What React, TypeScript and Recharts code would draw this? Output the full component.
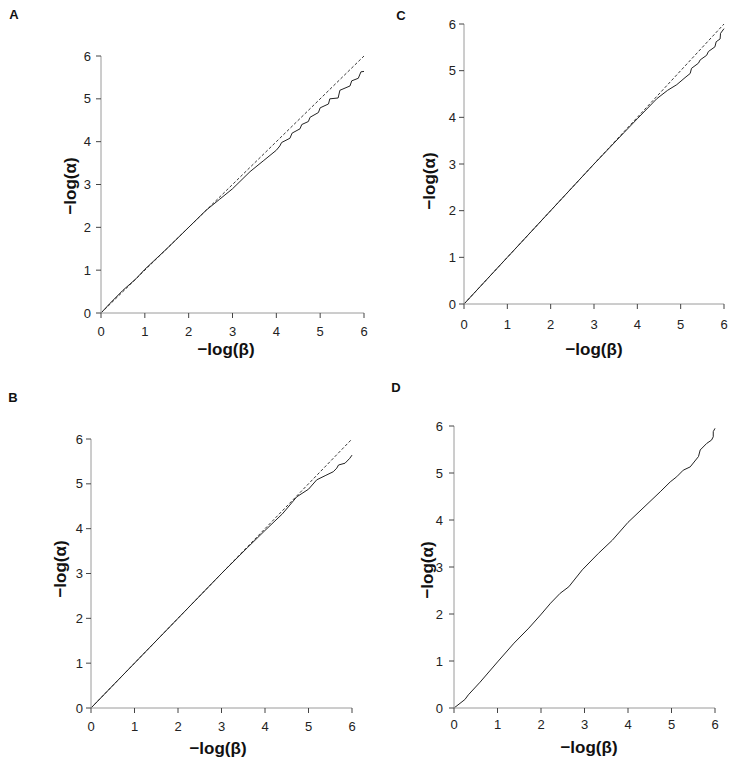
import React from "react";
import { LineChart, Line, XAxis, YAxis } from "recharts";

// panel A
const aX = [0, 0.2, 0.5, 0.8, 1.0, 1.5, 2.0, 2.4, 2.7, 3.0, 3.4, 3.7, 4.0, 4.08, 4.12, 4.31, 4.36, 4.54, 4.58, 4.73, 4.77, 4.96, 5.0, 5.19, 5.22, 5.41, 5.45, 5.68, 5.72, 5.87, 5.93, 6.0];
const aY = [0, 0.22, 0.53, 0.8, 1.02, 1.5, 2.0, 2.4, 2.65, 2.9, 3.3, 3.55, 3.8, 3.9, 3.98, 4.08, 4.2, 4.3, 4.4, 4.47, 4.57, 4.68, 4.79, 4.88, 5.0, 5.02, 5.2, 5.3, 5.42, 5.48, 5.63, 5.64];

// panel B
const bX = [0, 1, 2, 3, 3.6, 4.0, 4.4, 4.73, 5.0, 5.19, 5.4, 5.57, 5.65, 5.69, 5.84, 5.95, 6.0];
const bY = [0, 1, 2, 3, 3.58, 3.96, 4.33, 4.71, 4.88, 5.09, 5.19, 5.27, 5.35, 5.42, 5.46, 5.57, 5.64];

// panel C
const cX = [0, 1, 2, 3, 3.7, 4.0, 4.45, 4.7, 4.91, 5.1, 5.22, 5.25, 5.41, 5.45, 5.6, 5.64, 5.79, 5.82, 5.91, 5.92, 6.0];
const cY = [0, 1, 2, 3, 3.68, 3.97, 4.4, 4.58, 4.7, 4.85, 4.94, 5.05, 5.16, 5.23, 5.33, 5.41, 5.51, 5.62, 5.68, 5.8, 5.9];

// panel D
const dX = [0, 0.25, 0.33, 0.6, 1.0, 1.38, 1.72, 1.99, 2.22, 2.44, 2.64, 2.95, 3.32, 3.64, 4.0, 4.74, 4.97, 5.12, 5.27, 5.43, 5.62, 5.66, 5.81, 5.92, 5.96, 5.96, 6.0];
const dY = [0, 0.18, 0.28, 0.55, 0.98, 1.38, 1.7, 1.98, 2.23, 2.44, 2.58, 2.94, 3.29, 3.57, 3.95, 4.6, 4.81, 4.92, 5.06, 5.13, 5.35, 5.49, 5.63, 5.7, 5.77, 5.88, 5.95];

// y = x reference
const refX = [0, 6];
const refY = [0, 6];

const ticks = [0, 1, 2, 3, 4, 5, 6];
const xTitle = "\u2212log(\u03b2)";
const yTitle = "\u2212log(\u03b1)";

const toPoints = (xs: number[], ys: number[]) => xs.map((x, i) => ({ x, y: ys[i] }));

const W = 734;
const H = 761;
const FONT = "'Liberation Sans', Arial, sans-serif";

type PanelProps = {
  letter: string;
  xs: number[];
  ys: number[];
  showRef: boolean;
  box: [number, number, number, number]; // x0, y0, x1, y1 of plot area
  xMargin: number;
  yMargin: number;
  xt: [number, number];
  yt: [number, number];
  lt: [number, number];
};

function Panel({ letter, xs, ys, showRef, box, xMargin, yMargin, xt, yt, lt }: PanelProps) {
  const [x0, y0, x1, y1] = box;
  const yw = 40;
  const xh = 30;
  const tick = { fontSize: 13, fill: "#222", fontFamily: FONT };
  return (
    <>
      <div style={{ position: "absolute", left: 0, top: 0 }}>
        <LineChart
          width={W}
          height={H}
          margin={{ top: y0, left: x0 - yw, right: W - x1, bottom: H - y1 - xh }}
        >
          <XAxis
            dataKey="x"
            type="number"
            domain={[0, 6]}
            ticks={ticks}
            height={xh}
            tickSize={5}
            tickMargin={xMargin}
            tick={tick}
            axisLine={{ stroke: "#9a9a9a" }}
            tickLine={{ stroke: "#444" }}
          />
          <YAxis
            type="number"
            domain={[0, 6]}
            ticks={ticks}
            width={yw}
            tickSize={5}
            tickMargin={yMargin}
            tick={tick}
            axisLine={{ stroke: "#9a9a9a" }}
            tickLine={{ stroke: "#444" }}
          />
          {showRef && (
            <Line
              data={toPoints(refX, refY)}
              dataKey="y"
              type="linear"
              stroke="#222"
              strokeWidth={0.9}
              strokeDasharray="3 2"
              dot={false}
              isAnimationActive={false}
            />
          )}
          <Line
            data={toPoints(xs, ys)}
            dataKey="y"
            type="linear"
            stroke="#222"
            strokeWidth={1}
            dot={false}
            isAnimationActive={false}
          />
        </LineChart>
      </div>
      <div style={{ ...title, left: xt[0], top: xt[1], transform: "translate(-50%,-50%)" }}>{xTitle}</div>
      <div style={{ ...title, left: yt[0], top: yt[1], transform: "translate(-50%,-50%) rotate(-90deg)" }}>{yTitle}</div>
      <div style={{ ...title, fontSize: 13, left: lt[0], top: lt[1], transform: "translate(-50%,-50%)" }}>{letter}</div>
    </>
  );
}

const title: React.CSSProperties = {
  position: "absolute",
  fontFamily: FONT,
  fontWeight: "bold",
  fontSize: 17,
  color: "#111",
  whiteSpace: "nowrap",
  lineHeight: 1,
};

export default function App() {
  return (
    <div style={{ position: "absolute", left: 0, top: 0, width: W, height: H, background: "#fff" }}>
      <Panel letter="A" xs={aX} ys={aY} showRef box={[101, 56, 364, 313]} xMargin={9} yMargin={5} xt={[226, 349]} yt={[70, 186]} lt={[14, 14]} />
      <Panel letter="C" xs={cX} ys={cY} showRef box={[464, 24, 724, 304]} xMargin={11} yMargin={3} xt={[594, 349]} yt={[429, 181]} lt={[401, 15]} />
      <Panel letter="B" xs={bX} ys={bY} showRef box={[91, 439, 352, 708]} xMargin={9} yMargin={3} xt={[218, 748]} yt={[60, 569]} lt={[13, 397]} />
      <Panel letter="D" xs={dX} ys={dY} showRef={false} box={[454, 426, 715, 708]} xMargin={7} yMargin={6} xt={[589, 747]} yt={[427, 570]} lt={[396, 387]} />
    </div>
  );
}
